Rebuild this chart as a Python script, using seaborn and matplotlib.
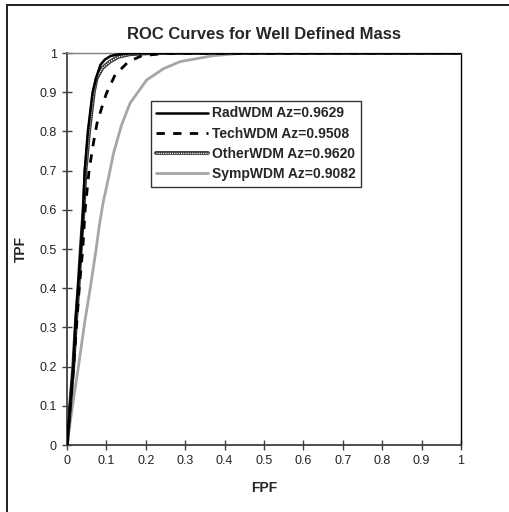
import matplotlib
matplotlib.use("Agg")
import matplotlib.pyplot as plt
from matplotlib.patches import Rectangle
from matplotlib.legend_handler import HandlerTuple
import seaborn as sns

# ROC operating points
rad_fpf = [0, 0.008, 0.016, 0.022, 0.028, 0.035, 0.041, 0.045, 0.053, 0.065, 0.075, 0.085, 0.096, 0.11, 0.126, 0.16, 0.25, 1.0]
rad_tpf = [0, 0.1, 0.2, 0.32, 0.4, 0.5, 0.6, 0.7, 0.8, 0.9, 0.94, 0.97, 0.983, 0.992, 0.996, 0.999, 1.0, 1.0]

tech_fpf = [0, 0.008, 0.017, 0.024, 0.031, 0.04, 0.046, 0.056, 0.067, 0.076, 0.088, 0.1, 0.122, 0.156, 0.19, 0.25, 1.0]
tech_tpf = [0, 0.1, 0.2, 0.3, 0.4, 0.5, 0.6, 0.7, 0.77, 0.82, 0.86, 0.897, 0.944, 0.978, 0.993, 0.999, 1.0]

other_fpf = [0, 0.008, 0.016, 0.023, 0.029, 0.035, 0.042, 0.047, 0.056, 0.068, 0.075, 0.09, 0.109, 0.13, 0.16, 0.22, 1.0]
other_tpf = [0, 0.1, 0.2, 0.32, 0.4, 0.5, 0.6, 0.7, 0.8, 0.9, 0.935, 0.962, 0.978, 0.99, 0.997, 1.0, 1.0]

symp_fpf = [0, 0.014, 0.029, 0.046, 0.059, 0.074, 0.082, 0.092, 0.105, 0.118, 0.138, 0.16, 0.202, 0.245, 0.287, 0.37, 0.45, 1.0]
symp_tpf = [0, 0.1, 0.2, 0.32, 0.4, 0.5, 0.56, 0.62, 0.68, 0.744, 0.815, 0.872, 0.931, 0.96, 0.978, 0.993, 1.0, 1.0]

labels = ["RadWDM Az=0.9629", "TechWDM Az=0.9508", "OtherWDM Az=0.9620", "SympWDM Az=0.9082"]
ticks = [0, 0.1, 0.2, 0.3, 0.4, 0.5, 0.6, 0.7, 0.8, 0.9, 1]
tick_labels = ["0", "0.1", "0.2", "0.3", "0.4", "0.5", "0.6", "0.7", "0.8", "0.9", "1"]

sns.set_style("white")
plt.rcParams["font.family"] = ["Liberation Sans", "DejaVu Sans"]

fig = plt.figure(figsize=(5.10, 5.12), dpi=100)
ax = fig.add_axes([67 / 510, 67 / 512, 394 / 510, 392 / 512])

# outer chart frame (left/top edges visible)
fig.patches.append(Rectangle((7 / 510, -0.05), 1.2, 1 - 5 / 512 + 0.05, transform=fig.transFigure,
                             fill=False, edgecolor="#202020", linewidth=1.4))

sns.lineplot(x=symp_fpf, y=symp_tpf, ax=ax, estimator=None, sort=False,
             color="#a6a6a6", linewidth=2.0, label=labels[3], zorder=2)
# hatched look: dark thick line with a white dotted line on top
sns.lineplot(x=other_fpf, y=other_tpf, ax=ax, estimator=None, sort=False,
             color="#3a3a3a", linewidth=2.8, label=labels[2], zorder=3)
sns.lineplot(x=other_fpf, y=other_tpf, ax=ax, estimator=None, sort=False,
             color="white", linewidth=1.0, linestyle=(0, (0.8, 0.8)), label="other_dots", zorder=3.5)
sns.lineplot(x=tech_fpf, y=tech_tpf, ax=ax, estimator=None, sort=False,
             color="black", linewidth=2.0, linestyle=(0, (3, 3)), label=labels[1], zorder=4)
sns.lineplot(x=rad_fpf, y=rad_tpf, ax=ax, estimator=None, sort=False,
             color="black", linewidth=1.8, label=labels[0], zorder=5)

ax.set_xlim(0, 1)
ax.set_ylim(0, 1)
ax.set_xticks(ticks)
ax.set_xticklabels(tick_labels)
ax.set_yticks(ticks)
ax.set_yticklabels(tick_labels)
ax.tick_params(axis="both", direction="inout", length=7, width=1.0, color="#404040",
               labelsize=9, labelcolor="#222222", pad=4, bottom=True, left=True)

for side in ["left", "bottom"]:
    ax.spines[side].set_color("#404040")
    ax.spines[side].set_linewidth(1.3)
ax.spines["right"].set_color("black")
ax.spines["right"].set_linewidth(1.0)
ax.spines["top"].set_color("#808080")
ax.spines["top"].set_linewidth(1.0)

ax.set_title("ROC Curves for Well Defined Mass", fontsize=12, fontweight="bold", pad=10)
ax.set_xlabel("FPF", fontsize=10, fontweight="bold", labelpad=10)
ax.set_ylabel("TPF", fontsize=10, fontweight="bold", labelpad=8)

handles, lbls = ax.get_legend_handles_labels()
h = dict(zip(lbls, handles))
leg = ax.legend([h[labels[0]], h[labels[1]], (h[labels[2]], h["other_dots"]), h[labels[3]]], labels,
                handler_map={tuple: HandlerTuple(ndivide=1, pad=0)},
                loc="upper left", bbox_to_anchor=(0.213, 0.878), borderaxespad=0,
                prop={"weight": "bold", "size": 10}, frameon=True, fancybox=False,
                edgecolor="black", handlelength=3.7, handletextpad=0.3,
                labelspacing=0.45, borderpad=0.4)
leg.get_frame().set_linewidth(1.0)

fig.savefig("out.png", dpi=100)
